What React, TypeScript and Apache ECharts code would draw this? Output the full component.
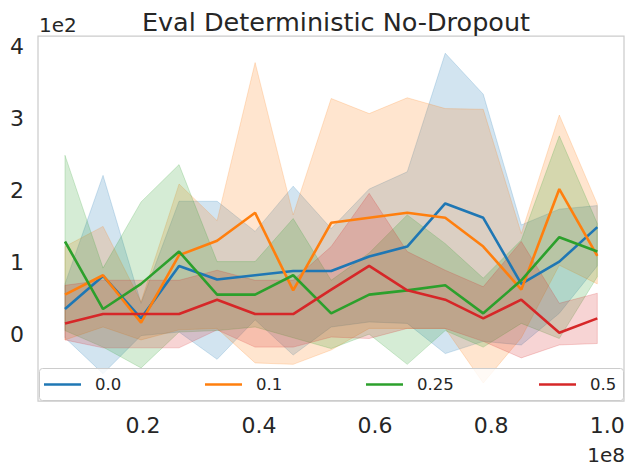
import React, { useEffect, useRef } from "react";
import * as echarts from "echarts";

// x positions (units of 1e8 steps)
const steps = [0.0655, 0.1311, 0.1966, 0.2621, 0.3277, 0.3932, 0.4588, 0.5243, 0.5898, 0.6554, 0.7209, 0.7864, 0.852, 0.9175, 0.983];

const seriesNames = ["0.0", "0.1", "0.25", "0.5"];
const seriesColors = ["#1f77b4", "#ff7f0e", "#2ca02c", "#d62728"];

// values in units of 1e2
const mean00 = [0.35, 0.81, 0.22, 0.95, 0.76, 0.82, 0.88, 0.88, 1.08, 1.22, 1.82, 1.62, 0.7, 1.01, 1.49];
const low00 = [-0.05, -0.55, -0.02, 0.03, -0.35, 0.2, -0.29, 0.1, 0.17, 0.15, -0.27, -0.1, -0.15, 0.29, 0.95];
const high00 = [0.7, 2.21, 0.43, 1.85, 1.85, 1.43, 2.06, 1.47, 2.02, 2.26, 3.91, 3.34, 1.52, 1.74, 1.79];

const mean01 = [0.55, 0.82, 0.16, 1.1, 1.3, 1.69, 0.61, 1.55, 1.62, 1.69, 1.62, 1.22, 0.62, 2.02, 1.09];
const low01 = [-0.08, 0.1, -0.08, 0.06, 0.08, -0.4, -0.42, -0.22, 0.08, 0.08, 0.08, -0.68, -0.05, 0.96, 0.7];
const high01 = [1.22, 1.5, 0.45, 2.09, 1.58, 3.78, 1.66, 3.28, 3.07, 3.29, 3.14, 3.13, 1.4, 3.05, 1.81];

const mean025 = [1.29, 0.35, 0.7, 1.15, 0.55, 0.55, 0.82, 0.29, 0.55, 0.61, 0.68, 0.29, 0.75, 1.35, 1.15];
const low025 = [0.05, -0.18, -0.47, 0.03, 0.05, 0.1, -0.05, -0.2, 0.0, -0.42, 0.05, -0.18, 0.15, -0.06, 0.8];
const high025 = [2.49, 0.92, 1.84, 2.36, 1.01, 1.01, 1.61, 0.75, 1.13, 1.66, 1.26, 0.78, 1.31, 2.76, 1.54];

const mean05 = [0.15, 0.28, 0.28, 0.28, 0.48, 0.28, 0.28, 0.62, 0.95, 0.61, 0.48, 0.22, 0.48, 0.02, 0.22];
const low05 = [-0.08, -0.19, -0.19, -0.19, 0.06, -0.18, -0.18, -0.04, -0.06, 0.08, 0.08, -0.1, -0.33, -0.15, -0.13];
const high05 = [0.68, 0.75, 0.75, 0.75, 0.89, 0.75, 0.75, 1.22, 1.96, 1.15, 0.89, 0.66, 1.29, 0.43, 0.57];

const xTicks = [0.2, 0.4, 0.6, 0.8, 1.0];
const yTicks = [0, 1, 2, 3, 4];

const means = [mean00, mean01, mean025, mean05];
const lows = [low00, low01, low025, low05];
const highs = [high00, high01, high025, high05];

const FONT = "DejaVu Sans";
const TEXT = "#262626";

function withAlpha(hex: string, a: number) {
  const r = parseInt(hex.slice(1, 3), 16);
  const g = parseInt(hex.slice(3, 5), 16);
  const b = parseInt(hex.slice(5, 7), 16);
  return `rgba(${r},${g},${b},${a})`;
}

function buildOption() {
  const series: any[] = [];
  seriesNames.forEach((name, i) => {
    const c = seriesColors[i];
    const lo = lows[i];
    const hi = highs[i];
    series.push({
      name: name + " band",
      type: "custom",
      data: steps.map((x, k) => [x, lo[k], hi[k]]),
      encode: { x: 0, y: [1, 2] },
      silent: true,
      z: 2,
      clip: true,
      renderItem: (params: any, api: any) => {
        if (params.dataIndex !== 0) return null;
        const upper = steps.map((x, k) => api.coord([x, hi[k]]));
        const lower = steps.map((x, k) => api.coord([x, lo[k]])).reverse();
        return {
          type: "polygon",
          shape: { points: upper.concat(lower) },
          style: { fill: withAlpha(c, 0.2), stroke: withAlpha(c, 0.2), lineWidth: 1 },
        };
      },
    });
  });
  seriesNames.forEach((name, i) => {
    series.push({
      name,
      type: "line",
      data: steps.map((x, k) => [x, means[i][k]]),
      showSymbol: false,
      symbol: "none",
      color: seriesColors[i],
      lineStyle: { color: seriesColors[i], width: 2.6 },
      z: 3,
    });
  });

  const legendX = [44, 205, 366, 539];
  const legends = seriesNames.map((name, i) => ({
    data: [name],
    left: legendX[i],
    top: 376,
    icon: "rect",
    itemWidth: 37,
    itemHeight: 2.6,
    z: 20,
    padding: 0,
    textStyle: { fontSize: 16.5, color: TEXT, fontFamily: FONT, padding: [0, 0, 0, 9] },
    selectedMode: false,
  }));

  return {
    animation: false,
    backgroundColor: "#ffffff",
    textStyle: { fontFamily: FONT },
    title: {
      text: "Eval Deterministic No-Dropout",
      left: 331,
      textAlign: "center",
      top: 4,
      textStyle: { fontSize: 25.5, fontWeight: "normal", color: TEXT, fontFamily: FONT },
    },
    legend: legends,
    grid: {
      left: 38,
      top: 36,
      width: 586,
      height: 365,
      show: true,
      borderColor: "#cccccc",
      borderWidth: 1.25,
      backgroundColor: "#ffffff",
    },
    xAxis: {
      type: "value",
      min: 0.019,
      max: 1.029,
      axisLine: { show: false },
      axisTick: { show: false },
      splitLine: { show: false },
      axisLabel: {
        customValues: xTicks,
        formatter: (v: number) => v.toFixed(1),
        fontSize: 22,
        color: TEXT,
        fontFamily: FONT,
        margin: 13,
      },
    },
    yAxis: {
      type: "value",
      min: -0.93,
      max: 4.15,
      axisLine: { show: false },
      axisTick: { show: false },
      splitLine: { show: false },
      axisLabel: {
        customValues: yTicks,
        formatter: (v: number) => String(Math.round(v)),
        fontSize: 22,
        color: TEXT,
        fontFamily: FONT,
        margin: 14,
      },
    },
    graphic: [
      {
        type: "rect",
        z: 10,
        shape: { x: 39.5, y: 368.5, width: 584, height: 32, r: 3 },
        style: { fill: "rgba(255,255,255,0.8)", stroke: "#cccccc", lineWidth: 1 },
        silent: true,
      },
      {
        type: "text",
        z: 10,
        x: 39,
        y: 15,
        style: { text: "1e2", fontSize: 20, fill: TEXT, fontFamily: FONT },
      },
      {
        type: "text",
        z: 10,
        x: 625,
        y: 445,
        style: { text: "1e8", fontSize: 20, fill: TEXT, fontFamily: FONT, textAlign: "right" },
      },
    ],
    series,
  };
}

export default function App() {
  const ref = useRef<HTMLDivElement>(null);
  useEffect(() => {
    if (!ref.current) return;
    const chart = echarts.init(ref.current, null, { renderer: "svg" });
    chart.setOption(buildOption() as any);
    return () => chart.dispose();
  }, []);
  return (
    <div
      ref={ref}
      style={{ position: "fixed", left: 0, top: 0, width: 635, height: 474 }}
    />
  );
}
